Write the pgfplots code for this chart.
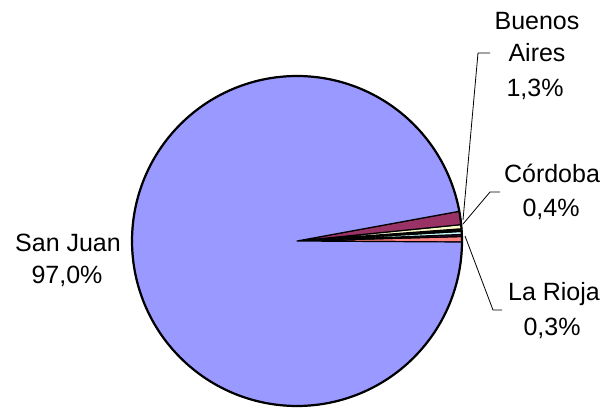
\documentclass[border=0pt]{standalone}
\usepackage{fontspec}
\setmainfont{Liberation Sans}
\usepackage{pgfplots}
\pgfplotsset{compat=1.18}

% Excel default pie colours
\definecolor{sanjuan}{HTML}{9999FF}
\definecolor{bsas}{HTML}{993366}
\definecolor{cordoba}{HTML}{FFFFCC}
\definecolor{otra}{HTML}{660066}
\definecolor{turq}{HTML}{CCFFFF}
\definecolor{larioja}{HTML}{FF8080}

% pie geometry (pixel units of the reference, y upwards)
\def\cx{297}
\def\cy{169}
\def\rr{165}

\begin{document}
\begin{tikzpicture}[font=\fontsize{25}{30}\selectfont]
\begin{axis}[
    scale only axis,
    width=613pt, height=410pt,
    xmin=0, xmax=613, ymin=0, ymax=410,
    hide axis,
    clip=false,
    slice/.style={draw=black, line width=1.2pt, line join=round, variable=\t},
]
% fixes the bounding box to the reference frame
\addplot[draw=none] coordinates {(0,0) (613,410)};
% slices, counter-clockwise from -0.35 deg; widths = share (%) * 3.6 deg
% La Rioja 0.53 | otra 0.20 | otra 0.30 | otra 0.25 | Cordoba 0.40 | Buenos Aires 1.30 | San Juan 97.02
\addplot[slice, fill=larioja, domain=-0.35:1.56, samples=4]
    ({\cx+\rr*cos(\t)},{\cy+\rr*sin(\t)}) -- (\cx,\cy) -- cycle;
\addplot[slice, fill=otra, domain=1.56:2.28, samples=3]
    ({\cx+\rr*cos(\t)},{\cy+\rr*sin(\t)}) -- (\cx,\cy) -- cycle;
\addplot[slice, fill=turq, domain=2.28:3.36, samples=3]
    ({\cx+\rr*cos(\t)},{\cy+\rr*sin(\t)}) -- (\cx,\cy) -- cycle;
\addplot[slice, fill=black, domain=3.36:4.26, samples=3]
    ({\cx+\rr*cos(\t)},{\cy+\rr*sin(\t)}) -- (\cx,\cy) -- cycle;
\addplot[slice, fill=cordoba, domain=4.26:5.70, samples=3]
    ({\cx+\rr*cos(\t)},{\cy+\rr*sin(\t)}) -- (\cx,\cy) -- cycle;
\addplot[slice, fill=bsas, domain=5.70:10.38, samples=5]
    ({\cx+\rr*cos(\t)},{\cy+\rr*sin(\t)}) -- (\cx,\cy) -- cycle;
\addplot[slice, fill=sanjuan, domain=10.38:359.65, samples=240]
    ({\cx+\rr*cos(\t)},{\cy+\rr*sin(\t)}) -- (\cx,\cy) -- cycle;
% heavier outer rim
\addplot[black, line width=2.2pt, domain=0:360, samples=241, variable=\t]
    ({\cx+\rr*cos(\t)},{\cy+\rr*sin(\t)});

% leader lines
\addplot[black, line width=0.8pt] coordinates {(490,357) (478,357) (463,190)};
\addplot[black, line width=0.8pt] coordinates {(500,218) (490,218) (463,186)};
\addplot[black, line width=0.8pt] coordinates {(465,174) (493,100) (502,100)};

% labels
\node[anchor=base] at (axis cs:537,380) {Buenos};
\node[anchor=base] at (axis cs:537,348) {Aires};
\node[anchor=base] at (axis cs:535,313) {1,3\%};
\node[anchor=base] at (axis cs:552,227) {Córdoba};
\node[anchor=base] at (axis cs:551,193) {0,4\%};
\node[anchor=base] at (axis cs:554,110) {La Rioja};
\node[anchor=base] at (axis cs:552,75) {0,3\%};
\node[anchor=base] at (axis cs:68,158) {San Juan};
\node[anchor=base] at (axis cs:67,127) {97,0\%};
\end{axis}
\end{tikzpicture}
\end{document}
